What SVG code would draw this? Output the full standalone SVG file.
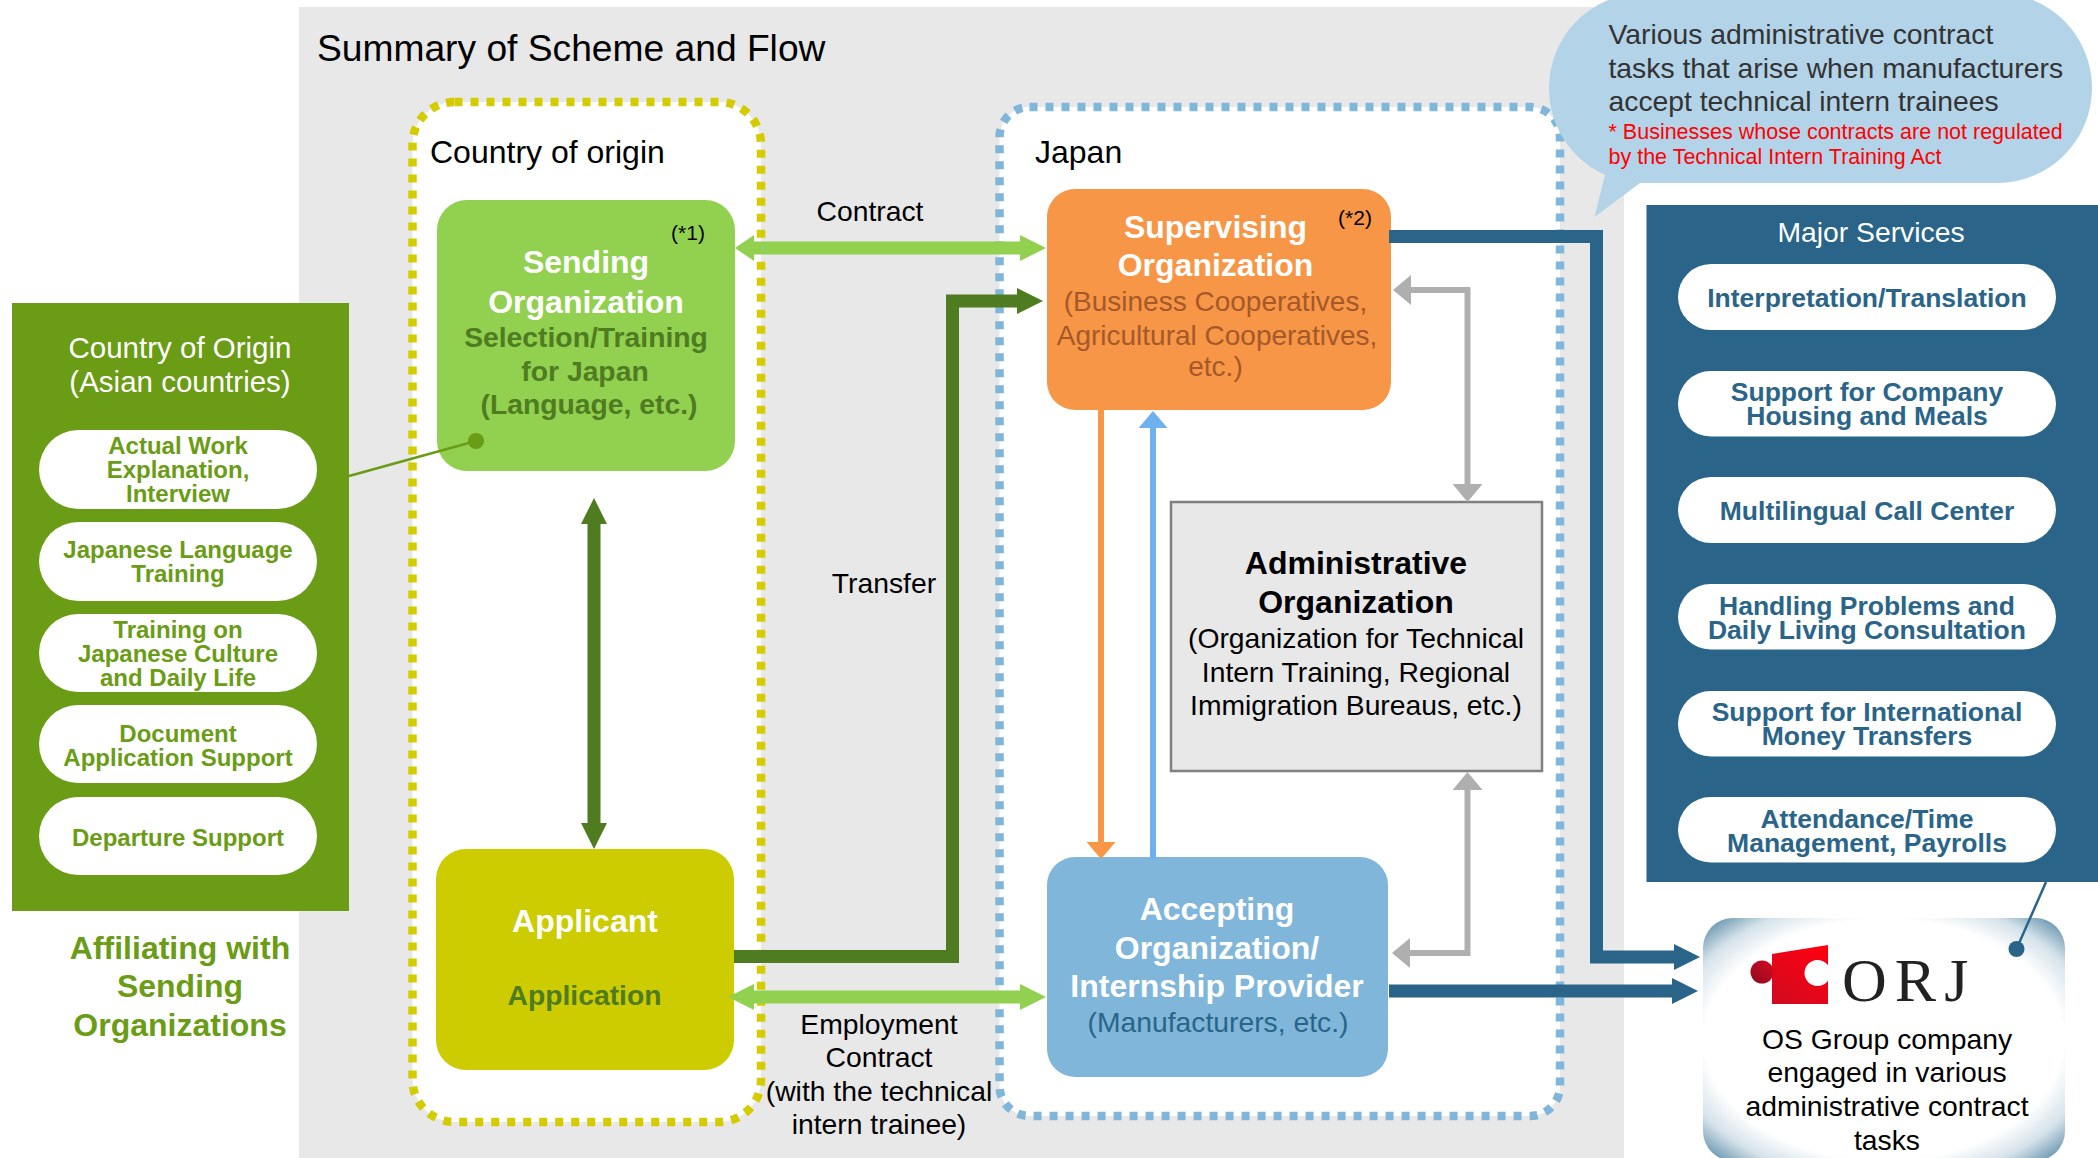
<svg xmlns="http://www.w3.org/2000/svg" width="2098" height="1158" viewBox="0 0 2098 1158">
<style>
text{font-family:"Liberation Sans",Arial,sans-serif;text-anchor:middle}
.b{font-weight:700}
.s28{font-size:28.300px}
.s29{font-size:29.500px}
.s32{font-size:32px}
.s24{font-size:24px}
.s26{font-size:26.500px}
.st{font-size:21px}
.w{fill:#fff}
.k{fill:#000}
.lft{text-anchor:start}
.lg{fill:#6a9c15}
.dg{fill:#4f7b21}
.db{fill:#2a6589}
.org{fill:#a5592a;font-size:28px}
.pill{fill:#fff}
.zone{fill:#fff;stroke-width:8.500;stroke-dasharray:8 8}
.c{fill:none}
.big{stroke-width:13}
.thin{stroke-width:6}
</style>
<defs>
<marker id="mLight" markerUnits="userSpaceOnUse" markerWidth="26" markerHeight="26" refX="0" refY="13" orient="auto-start-reverse"><path d="M0 0L26 13L0 26Z" fill="#92d050"/></marker>
<marker id="mLightS" markerUnits="userSpaceOnUse" markerWidth="19" markerHeight="26" refX="0" refY="13" orient="auto-start-reverse"><path d="M0 0L19 13L0 26Z" fill="#92d050"/></marker>
<marker id="mDark" markerUnits="userSpaceOnUse" markerWidth="26" markerHeight="26" refX="0" refY="13" orient="auto-start-reverse"><path d="M0 0L26 13L0 26Z" fill="#4f7b21"/></marker>
<marker id="mNavy" markerUnits="userSpaceOnUse" markerWidth="26" markerHeight="26" refX="0" refY="13" orient="auto"><path d="M0 0L26 13L0 26Z" fill="#2a6589"/></marker>
<marker id="mGray" markerUnits="userSpaceOnUse" markerWidth="18" markerHeight="30" refX="0" refY="15" orient="auto-start-reverse"><path d="M0 0L18 15L0 30Z" fill="#afafaf"/></marker>
<marker id="mOrange" markerUnits="userSpaceOnUse" markerWidth="17" markerHeight="29" refX="0" refY="14.5" orient="auto"><path d="M0 0L17 14.5L0 29Z" fill="#f79646"/></marker>
<marker id="mBlue" markerUnits="userSpaceOnUse" markerWidth="17" markerHeight="29" refX="0" refY="14.5" orient="auto"><path d="M0 0L17 14.5L0 29Z" fill="#6fb1ee"/></marker>
<radialGradient id="orjFill" cx="0.5" cy="0.5" r="0.7071">
<stop offset="0.7" stop-color="#fff"/><stop offset="0.83" stop-color="#d5e2ea"/><stop offset="0.95" stop-color="#6f9ab3"/><stop offset="1" stop-color="#4a7f9f"/>
</radialGradient>
<linearGradient id="logoRed" x1="0.9" y1="0" x2="0.2" y2="1"><stop offset="0" stop-color="#ff0010"/><stop offset="1" stop-color="#d30a1e"/></linearGradient>
<linearGradient id="logoKnob" x1="1" y1="0" x2="0" y2="1"><stop offset="0" stop-color="#d60a20"/><stop offset="1" stop-color="#8f0a20"/></linearGradient>
</defs>

<rect id="panel" x="299" y="7" width="1325" height="1151" fill="#e8e8e8"/>
<text class="lft" x="317" y="61" font-size="37.200">Summary of Scheme and Flow</text>

<g id="zone-origin">
<rect class="zone" x="412.5" y="102" width="348.5" height="1020" rx="42" stroke="#d4cc00"/>
<text class="s32 lft" x="430" y="163">Country of origin</text>
</g>
<g id="zone-japan">
<rect class="zone" x="999.5" y="107" width="560.5" height="1009" rx="30" stroke="#7fb6d9"/>
<text class="s32 lft" x="1035" y="163">Japan</text>
</g>

<g id="node-sending">
<rect x="437" y="200" width="298" height="271" rx="30" fill="#92d050"/>
<text class="st" x="688" y="240">(*1)</text>
<text class="b s32 w" x="586" y="273">Sending</text>
<text class="b s32 w" x="586" y="313">Organization</text>
<text class="b s28 dg" x="586" y="347">Selection/Training</text>
<text class="b s28 dg" x="585" y="381">for Japan</text>
<text class="b s28 dg" x="589" y="414">(Language, etc.)</text>
</g>
<g id="node-applicant">
<rect x="436" y="849" width="298" height="221" rx="30" fill="#cccc00"/>
<text class="b s32 w" x="585" y="932">Applicant</text>
<text class="b s28 dg" x="584.500" y="1005">Application</text>
</g>
<g id="node-supervising">
<rect x="1047" y="189" width="344" height="221" rx="28" fill="#f79646"/>
<text class="st" x="1355" y="225">(*2)</text>
<text class="b s32 w" x="1215.500" y="238">Supervising</text>
<text class="b s32 w" x="1215.500" y="276">Organization</text>
<text class="org" x="1215.500" y="311">(Business Cooperatives,</text>
<text class="org" x="1217" y="345">Agricultural Cooperatives,</text>
<text class="org" x="1215.500" y="376">etc.)</text>
</g>
<g id="node-accepting">
<rect x="1047" y="857" width="341" height="220" rx="28" fill="#7fb6d9"/>
<text class="b s32 w" x="1217" y="920">Accepting</text>
<text class="b s32 w" x="1217" y="959">Organization/</text>
<text class="b s32 w" x="1217" y="997">Internship Provider</text>
<text class="s28 db" x="1218" y="1032">(Manufacturers, etc.)</text>
</g>
<g id="node-admin">
<rect x="1171" y="502" width="371" height="269" fill="#e8e8e8" stroke="#808080" stroke-width="2.500"/>
<text class="b s32 k" x="1356" y="574">Administrative</text>
<text class="b s32 k" x="1356" y="613">Organization</text>
<text class="s28 k" x="1356" y="648">(Organization for Technical</text>
<text class="s28 k" x="1356" y="682">Intern Training, Regional</text>
<text class="s28 k" x="1356" y="715">Immigration Bureaus, etc.)</text>
</g>

<g id="node-country">
<rect x="12" y="303" width="337" height="608" fill="#6a9c15"/>
<text class="s29 w" x="180" y="358">Country of Origin</text>
<text class="s29 w" x="180" y="392">(Asian countries)</text>
<rect class="pill" x="39" y="430" width="278" height="79" rx="39.500"/>
<text class="b s24 lg" x="178" y="454">Actual Work</text>
<text class="b s24 lg" x="178" y="478">Explanation,</text>
<text class="b s24 lg" x="178" y="502">Interview</text>
<rect class="pill" x="39" y="522" width="278" height="79" rx="39.500"/>
<text class="b s24 lg" x="178" y="558">Japanese Language</text>
<text class="b s24 lg" x="178" y="582">Training</text>
<rect class="pill" x="39" y="614" width="278" height="78" rx="39"/>
<text class="b s24 lg" x="178" y="638">Training on</text>
<text class="b s24 lg" x="178" y="662">Japanese Culture</text>
<text class="b s24 lg" x="178" y="686">and Daily Life</text>
<rect class="pill" x="39" y="705" width="278" height="78" rx="39"/>
<text class="b s24 lg" x="178" y="742">Document</text>
<text class="b s24 lg" x="178" y="766">Application Support</text>
<rect class="pill" x="39" y="797" width="278" height="78" rx="39"/>
<text class="b s24 lg" x="178" y="846">Departure Support</text>
<text class="b s32 lg" x="180" y="959">Affiliating with</text>
<text class="b s32 lg" x="180" y="997">Sending</text>
<text class="b s32 lg" x="180" y="1036">Organizations</text>
</g>

<g id="node-services">
<rect x="1646.500" y="205" width="451.500" height="677" fill="#2a6589"/>
<text class="s28 w" x="1871" y="242">Major Services</text>
<rect class="pill" x="1678" y="264" width="378" height="66" rx="33"/>
<text class="b s26 db" x="1867" y="307">Interpretation/Translation</text>
<rect class="pill" x="1678" y="371" width="378" height="65.500" rx="32.700"/>
<text class="b s26 db" x="1867" y="401">Support for Company</text>
<text class="b s26 db" x="1867" y="425">Housing and Meals</text>
<rect class="pill" x="1678" y="477" width="378" height="66" rx="33"/>
<text class="b s26 db" x="1867" y="520">Multilingual Call Center</text>
<rect class="pill" x="1678" y="584" width="378" height="65.500" rx="32.700"/>
<text class="b s26 db" x="1867" y="615">Handling Problems and</text>
<text class="b s26 db" x="1867" y="639">Daily Living Consultation</text>
<rect class="pill" x="1678" y="691" width="378" height="65.500" rx="32.700"/>
<text class="b s26 db" x="1867" y="721">Support for International</text>
<text class="b s26 db" x="1867" y="745">Money Transfers</text>
<rect class="pill" x="1678" y="797" width="378" height="65.500" rx="32.700"/>
<text class="b s26 db" x="1867" y="828">Attendance/Time</text>
<text class="b s26 db" x="1867" y="852">Management, Payrolls</text>
</g>

<g id="node-orj">
<rect x="1703" y="918" width="362" height="243" rx="30" fill="url(#orjFill)"/>
<circle cx="1762" cy="972" r="11.500" fill="url(#logoKnob)"/>
<path d="M1772 954L1828 945V1004H1772Z" fill="url(#logoRed)"/>
<circle cx="1817.500" cy="973" r="13" fill="#fff"/>
<text class="lft" x="1842" y="1001" style="font-family:'Liberation Serif',serif" font-size="62" letter-spacing="8" fill="#222">ORJ</text>
<text class="s28 k" x="1887" y="1049">OS Group company</text>
<text class="s28 k" x="1887" y="1082">engaged in various</text>
<text class="s28 k" x="1887" y="1116">administrative contract</text>
<text class="s28 k" x="1887" y="1150">tasks</text>
</g>

<g id="connectors">
<path class="c big" d="M754 248H1020" stroke="#92d050" marker-end="url(#mLight)" marker-start="url(#mLightS)"/>
<path class="c big" d="M754 997H1020" stroke="#92d050" marker-end="url(#mLight)" marker-start="url(#mLight)"/>
<path class="c big" d="M734 956.500H952.500V301H1017" stroke="#4f7b21" marker-end="url(#mDark)"/>
<path class="c big" d="M594 524V823" stroke="#4f7b21" marker-start="url(#mDark)" marker-end="url(#mDark)"/>
<path class="c thin" d="M1101 410V842" stroke="#f79646" marker-end="url(#mOrange)"/>
<path class="c thin" d="M1153 859V428" stroke="#6fb1ee" marker-end="url(#mBlue)"/>
<path class="c thin" d="M1411 290H1467.500V484" stroke="#afafaf" marker-start="url(#mGray)" marker-end="url(#mGray)"/>
<path class="c thin" d="M1410 953H1467.500V790" stroke="#afafaf" marker-start="url(#mGray)" marker-end="url(#mGray)"/>
<path class="c big" d="M1389 236.500H1596.500V957H1674" stroke="#2a6589" marker-end="url(#mNavy)"/>
<path class="c big" d="M1389 991H1672" stroke="#2a6589" marker-end="url(#mNavy)"/>
<path d="M349 476L476 441" stroke="#6a9c15" stroke-width="2.500" fill="none"/>
<circle cx="476" cy="441" r="8" fill="#6a9c15"/>
<path d="M2046 882L2016.500 949" stroke="#2a6589" stroke-width="2.500" fill="none"/>
<circle cx="2016.500" cy="949" r="8" fill="#2a6589"/>
</g>

<g id="callout">
<path d="M1644 -7H1997A95 95 0 0 1 2092 88A95 95 0 0 1 1997 183H1640L1594.500 217L1605 175A95 95 0 0 1 1549 88A95 95 0 0 1 1644 -7Z" fill="#b3d3e8"/>
<text class="s28 lft" x="1608.500" y="44" fill="#333">Various administrative contract</text>
<text class="s28 lft" x="1608.500" y="78" fill="#333">tasks that arise when manufacturers</text>
<text class="s28 lft" x="1608.500" y="111" fill="#333">accept technical intern trainees</text>
<text class="lft" x="1608.500" y="139" font-size="21.500" fill="#f00">* Businesses whose contracts are not regulated</text>
<text class="lft" x="1608.500" y="164" font-size="21.500" fill="#f00">by the Technical Intern Training Act</text>
</g>

<g id="labels">
<text class="s28" x="870" y="221">Contract</text>
<text class="s28" x="884" y="593">Transfer</text>
<text class="s28" x="879" y="1034">Employment</text>
<text class="s28" x="879" y="1067">Contract</text>
<text class="s28" x="879" y="1101">(with the technical</text>
<text class="s28" x="879" y="1134">intern trainee)</text>
</g>
</svg>
